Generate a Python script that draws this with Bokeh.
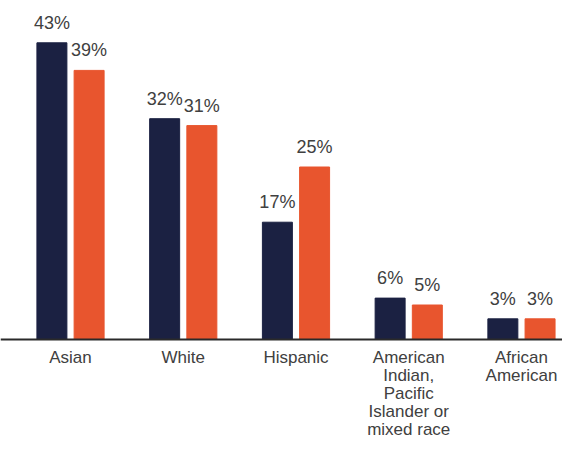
import numpy as np
from bokeh.plotting import figure
from bokeh.models import Range1d, ColumnDataSource, Span
from bokeh.core.properties import value
from bokeh.embed import file_html
from bokeh.resources import INLINE

categories = ["Asian", "White", "Hispanic",
              "American\nIndian,\nPacific\nIslander or\nmixed race",
              "African\nAmerican"]
series_a = [43, 32, 17, 6, 3]
series_b = [39, 31, 25, 5, 3]
labels_a = ["43%", "32%", "17%", "6%", "3%"]
labels_b = ["39%", "31%", "25%", "5%", "3%"]

navy = "#1b2142"
orange = "#e8552e"
text_col = "#404040"
font = "Liberation Sans"

idx = np.arange(len(categories))
off = 0.165
bw = 0.266

p = figure(width=562, height=441, output_backend="svg", toolbar_location=None,
           x_range=Range1d(-0.621, 4.364), y_range=Range1d(-14.78, 49.13),
           min_border_left=0, min_border_right=0, min_border_top=0,
           min_border_bottom=0)
p.outline_line_color = None
p.background_fill_color = "white"
p.border_fill_color = "white"
p.grid.visible = False
p.axis.visible = False

src_a = ColumnDataSource(dict(x=idx - off, top=series_a, lab=labels_a))
src_b = ColumnDataSource(dict(x=idx + off, top=series_b, lab=labels_b))
src_c = ColumnDataSource(dict(x=idx, y=np.zeros(len(idx)), lab=categories))

p.vbar(x="x", top="top", width=bw, bottom=0, source=src_a, color=navy)
p.vbar(x="x", top="top", width=bw, bottom=0, source=src_b, color=orange)

p.add_layout(Span(location=0, dimension="width", line_color="#2a2a2a",
                  line_width=2))

for src in (src_a, src_b):
    p.text(x="x", y="top", text="lab", source=src, text_align="center",
           text_baseline="alphabetic", y_offset=-20, text_font_size="18px",
           text_color=text_col, text_font=value(font))

p.text(x="x", y="y", text="lab", source=src_c, text_align="center",
       text_baseline="top", y_offset=8, text_font_size="17px",
       text_line_height=0.95, text_color=text_col, text_font=value(font))

open("out.html", "w").write(file_html(p, INLINE))
